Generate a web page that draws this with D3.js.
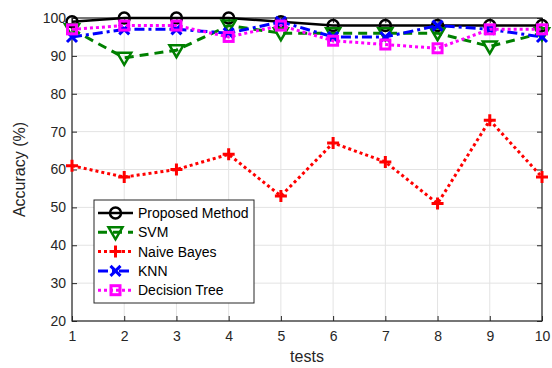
<!DOCTYPE html>
<html><head><meta charset="utf-8">
<script src="https://cdn.jsdelivr.net/npm/d3@7"></script>
<style>body{margin:0;background:#fff}svg{display:block}text{font-family:"Liberation Sans",Arial,sans-serif}</style>
</head><body>
<svg id="c" width="552" height="368"></svg>
<script>
const tests = [1,2,3,4,5,6,7,8,9,10];
const proposed = [99,100,100,100,99,98,98,98,98,98];
const svm = [97,89.5,91.5,98,96,96,96,96,92.5,96];
const naiveBayes = [61,58,60,64,53,67,62,51,73,58];
const knn = [95,97,97,96,99,95,95,98,97,95];
const decisionTree = [97,98,98,95,98,94,93,92,97,97];
const yTicks = [20,30,40,50,60,70,80,90,100];
const seriesNames = ["Proposed Method","SVM","Naive Bayes","KNN","Decision Tree"];

const svg = d3.select("#c");
const L=72, R=542, T=18, B=321;
const x = d3.scaleLinear().domain([1,10]).range([L,R]);
const y = d3.scaleLinear().domain([20,100]).range([B,T]);

// grid
const g = svg.append("g");
g.selectAll(".gx").data(tests).enter().append("line")
 .attr("x1",d=>x(d)).attr("x2",d=>x(d)).attr("y1",T).attr("y2",B)
 .attr("stroke","#e3e3e3").attr("stroke-width",1);
g.selectAll(".gy").data(yTicks).enter().append("line")
 .attr("y1",d=>y(d)).attr("y2",d=>y(d)).attr("x1",L).attr("x2",R)
 .attr("stroke","#e3e3e3").attr("stroke-width",1);

// axes
const ax = svg.append("g").attr("transform",`translate(0,${B})`)
 .call(d3.axisBottom(x).tickValues(tests).tickSize(-5).tickPadding(10).tickFormat(d3.format("d")));
const ay = svg.append("g").attr("transform",`translate(${L},0)`)
 .call(d3.axisLeft(y).tickValues(yTicks).tickSize(-5).tickPadding(6));
const ar = svg.append("g").attr("transform",`translate(${R},0)`)
 .call(d3.axisRight(y).tickValues(yTicks).tickSize(-5).tickFormat(""));
const at = svg.append("g").attr("transform",`translate(0,${T})`)
 .call(d3.axisTop(x).tickValues(tests).tickSize(-5).tickFormat(""));
[ax,ay,ar,at].forEach(a=>{
  a.selectAll("path").remove();
  a.selectAll("line").attr("stroke","#262626");
  a.selectAll("text").attr("fill","#262626").style("font-size","14px").style("font-family","'Liberation Sans',Arial,sans-serif");
});
svg.append("rect").attr("x",L).attr("y",T).attr("width",R-L).attr("height",B-T)
 .attr("fill","none").attr("stroke","#262626").attr("stroke-width",1.2);

svg.append("text").attr("x",(L+R)/2).attr("y",362).attr("text-anchor","middle")
 .attr("fill","#262626").style("font-size","16px").text("tests");
svg.append("text").attr("transform",`translate(25,${(T+B)/2}) rotate(-90)`).attr("text-anchor","middle")
 .attr("fill","#262626").style("font-size","16px").text("Accuracy (%)");

const styles = [
 {data:proposed,color:"#000000",dash:null,marker:"circle"},
 {data:svm,color:"#008000",dash:"9,6",marker:"tri"},
 {data:naiveBayes,color:"#ff0000",dash:"3,3",marker:"plus"},
 {data:knn,color:"#0000ff",dash:"10,4,3,4",marker:"x"},
 {data:decisionTree,color:"#ff00ff",dash:"3,3",marker:"square"}
];
function drawMarker(sel,type,color){
  if(type==="circle") sel.append("circle").attr("r",5.5).attr("fill","none").attr("stroke",color).attr("stroke-width",2.5);
  else if(type==="tri") sel.append("path").attr("d","M-7,-5L7,-5L0,7Z").attr("fill","none").attr("stroke",color).attr("stroke-width",2.5);
  else if(type==="plus") sel.append("path").attr("d","M-6,0L6,0M0,-6L0,6").attr("stroke",color).attr("stroke-width",3);
  else if(type==="x") sel.append("path").attr("d","M-5,-5L5,5M-5,5L5,-5").attr("stroke",color).attr("stroke-width",3);
  else if(type==="square") sel.append("rect").attr("x",-4.5).attr("y",-4.5).attr("width",9).attr("height",9).attr("fill","none").attr("stroke",color).attr("stroke-width",3);
}
const line = d3.line().x((d,i)=>x(tests[i])).y(d=>y(d));
styles.forEach(s=>{
  svg.append("path").datum(s.data).attr("d",line).attr("fill","none")
   .attr("stroke",s.color).attr("stroke-width",s.marker==="circle"?2.5:3)
   .attr("stroke-dasharray",s.dash);
  s.data.forEach((v,i)=>{
    const m = svg.append("g").attr("transform",`translate(${x(tests[i])},${y(v)})`);
    drawMarker(m,s.marker,s.color);
  });
});

// legend
const lg = svg.append("g");
lg.append("rect").attr("x",94).attr("y",200).attr("width",160).attr("height",103)
 .attr("fill","#fff").attr("stroke","#262626").attr("stroke-width",1);
styles.forEach((s,i)=>{
  const yy = 213 + i*19.3;
  lg.append("line").attr("x1",98).attr("x2",133).attr("y1",yy).attr("y2",yy)
   .attr("stroke",s.color).attr("stroke-width",s.marker==="circle"?2.5:3).attr("stroke-dasharray",s.dash);
  const m = lg.append("g").attr("transform",`translate(115.5,${yy})`);
  drawMarker(m,s.marker,s.color);
  lg.append("text").attr("x",138).attr("y",yy+5).attr("fill","#000").style("font-size","14px").text(seriesNames[i]);
});
</script>
</body></html>
